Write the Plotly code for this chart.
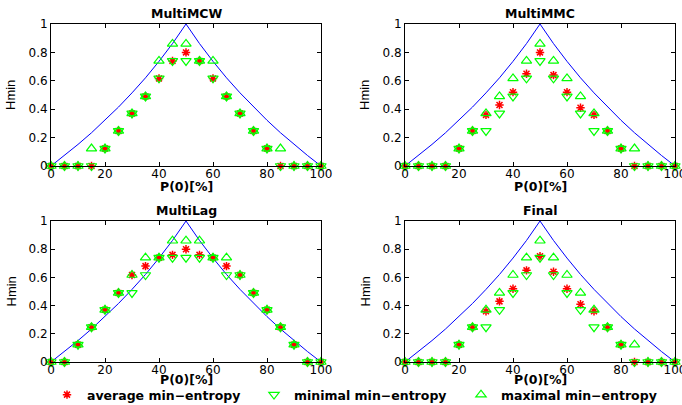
import plotly.graph_objects as go

p0 = [0, 5, 10, 15, 20, 25, 30, 35, 40, 45, 50, 55, 60, 65, 70, 75, 80, 85, 90, 95, 100]

# theoretical min-entropy curve
h_theory = [0, 0.074, 0.152, 0.234, 0.322, 0.415, 0.515, 0.621, 0.737, 0.862, 1.0,
            0.862, 0.737, 0.621, 0.515, 0.415, 0.322, 0.234, 0.152, 0.074, 0]

mcw_avg = [0, 0, 0, 0, 0.123, 0.247, 0.37, 0.49, 0.617, 0.74, 0.80, 0.74, 0.617, 0.49, 0.37, 0.247, 0.123, 0, 0, 0, 0]
mcw_min = [0, 0, 0, 0, 0.123, 0.247, 0.37, 0.49, 0.617, 0.74, 0.74, 0.74, 0.617, 0.49, 0.37, 0.247, 0.123, 0, 0, 0, 0]
mcw_max = [0, 0, 0, 0.123, 0.123, 0.247, 0.37, 0.49, 0.74, 0.86, 0.86, 0.74, 0.74, 0.49, 0.37, 0.247, 0.123, 0.123, 0, 0, 0]

mmc_avg = [0, 0, 0, 0, 0.123, 0.247, 0.36, 0.43, 0.52, 0.65, 0.80, 0.64, 0.52, 0.41, 0.36, 0.247, 0.123, 0, 0, 0, 0]
mmc_min = [0, 0, 0, 0, 0.123, 0.247, 0.247, 0.37, 0.49, 0.617, 0.74, 0.617, 0.49, 0.37, 0.247, 0.247, 0.123, 0, 0, 0, 0]
mmc_max = [0, 0, 0, 0, 0.123, 0.247, 0.37, 0.49, 0.617, 0.74, 0.86, 0.74, 0.617, 0.49, 0.37, 0.247, 0.123, 0.123, 0, 0, 0]

lag_avg = [0, 0, 0.123, 0.247, 0.37, 0.49, 0.617, 0.68, 0.74, 0.76, 0.80, 0.76, 0.74, 0.68, 0.617, 0.49, 0.37, 0.247, 0.123, 0, 0]
lag_min = [0, 0, 0.123, 0.247, 0.37, 0.49, 0.49, 0.617, 0.74, 0.74, 0.74, 0.74, 0.74, 0.617, 0.617, 0.49, 0.37, 0.247, 0.123, 0, 0]
lag_max = [0, 0, 0.123, 0.247, 0.37, 0.49, 0.617, 0.74, 0.74, 0.86, 0.86, 0.86, 0.74, 0.74, 0.617, 0.49, 0.37, 0.247, 0.123, 0, 0]

fin_avg = [0, 0, 0, 0, 0.123, 0.247, 0.36, 0.43, 0.52, 0.65, 0.75, 0.64, 0.52, 0.41, 0.36, 0.247, 0.123, 0, 0, 0, 0]
fin_min = [0, 0, 0, 0, 0.123, 0.247, 0.247, 0.37, 0.49, 0.617, 0.74, 0.617, 0.49, 0.37, 0.247, 0.247, 0.123, 0, 0, 0, 0]
fin_max = [0, 0, 0, 0, 0.123, 0.247, 0.37, 0.49, 0.617, 0.74, 0.86, 0.74, 0.617, 0.49, 0.37, 0.247, 0.123, 0.123, 0, 0, 0]

titles = ["MultiMCW", "MultiMMC", "MultiLag", "Final"]
panels = [(mcw_avg, mcw_min, mcw_max), (mmc_avg, mmc_min, mmc_max),
          (lag_avg, lag_min, lag_max), (fin_avg, fin_min, fin_max)]
legend_names = ["average min\u2212entropy", "minimal min\u2212entropy", "maximal min\u2212entropy"]

W, H = 682, 405
FONT = "DejaVu Sans, sans-serif"
NARROW = "Liberation Sans Narrow, Liberation Sans, sans-serif"

# pixel boxes (left, right, top, bottom) and x-label centre
boxes = [(51, 321, 24, 166), (405, 675, 24, 166), (51, 321, 221, 362), (405, 675, 221, 362)]
xlabel_y = [186, 186, 379, 379]

fig = go.Figure()
layout = dict(
    width=W, height=H, margin=dict(l=0, r=0, t=0, b=0, autoexpand=False),
    paper_bgcolor="white", plot_bgcolor="white",
    font=dict(family=FONT, size=12, color="black"),
    showlegend=True,
)
annotations = []

for i, (box, title, (avg, mn, mx)) in enumerate(zip(boxes, titles, panels)):
    n = "" if i == 0 else str(i + 1)
    xa, ya = "x" + n, "y" + n
    l, r, t, b = box
    layout["xaxis" + n] = dict(
        domain=[l / W, r / W], anchor=ya, range=[0, 100], tickvals=[0, 20, 40, 60, 80, 100],
        showline=True, linecolor="black", linewidth=1, mirror="ticks", ticks="inside",
        ticklen=4, tickcolor="black", showgrid=False, zeroline=False,
        tickfont=dict(size=12, family=FONT), automargin=False, ticklabeloverflow="allow",
        ticklabelstandoff=-3,
    )
    layout["yaxis" + n] = dict(
        domain=[1 - b / H, 1 - t / H], anchor=xa, range=[0, 1], tickvals=[0, 0.2, 0.4, 0.6, 0.8, 1],
        ticktext=["0", "0.2", "0.4", "0.6", "0.8", "1"],
        showline=True, linecolor="black", linewidth=1, mirror="ticks", ticks="inside",
        ticklen=4, tickcolor="black", showgrid=False, zeroline=False,
        tickfont=dict(size=12, family=FONT), automargin=False, ticklabeloverflow="allow",
    )
    fig.add_trace(go.Scatter(x=p0, y=h_theory, mode="lines", line=dict(color="#0000ff", width=1),
                             xaxis=xa, yaxis=ya, showlegend=False, cliponaxis=False))
    fig.add_trace(go.Scatter(x=p0, y=avg, mode="markers", name=legend_names[0],
                             marker=dict(symbol="asterisk-open", size=7, color="#ff0000",
                                         line=dict(color="#ff0000", width=1.5)),
                             xaxis=xa, yaxis=ya, showlegend=(i == 0), cliponaxis=False))
    fig.add_trace(go.Scatter(x=p0, y=mn, mode="markers", name=legend_names[1],
                             marker=dict(symbol="triangle-down-open", size=9, color="#00ff00",
                                         line=dict(color="#00ff00", width=1.2)),
                             xaxis=xa, yaxis=ya, showlegend=(i == 0), cliponaxis=False))
    fig.add_trace(go.Scatter(x=p0, y=mx, mode="markers", name=legend_names[2],
                             marker=dict(symbol="triangle-up-open", size=9, color="#00ff00",
                                         line=dict(color="#00ff00", width=1.2)),
                             xaxis=xa, yaxis=ya, showlegend=(i == 0), cliponaxis=False))
    cx = (l + r) / 2 / W
    annotations.append(dict(text="<b>" + title + "</b>", x=cx, y=1 - (t - 11) / H, xref="paper", yref="paper",
                            showarrow=False, font=dict(size=12.5, family=FONT), xanchor="center", yanchor="middle"))
    annotations.append(dict(text="<b>P(0)[%]</b>", x=cx, y=1 - xlabel_y[i] / H, xref="paper", yref="paper",
                            showarrow=False, font=dict(size=12.5, family=FONT), xanchor="center", yanchor="middle"))
    annotations.append(dict(text="Hmin", x=(l - 40) / W, y=1 - (t + b) / 2 / H, xref="paper", yref="paper",
                            showarrow=False, textangle=-90, font=dict(size=13, family=NARROW),
                            xanchor="center", yanchor="middle"))

layout["annotations"] = annotations
layout["legend"] = dict(orientation="h", x=47 / W, y=1 - 395 / H, xanchor="left", yanchor="middle",
                        entrywidth=162, entrywidthmode="pixels", bgcolor="rgba(0,0,0,0)",
                        font=dict(size=12.5, family=FONT, weight="bold"))
fig.update_layout(**layout)
fig.write_html("out.html", config={"displayModeBar": False},
               post_script="document.body.style.margin='0';")
